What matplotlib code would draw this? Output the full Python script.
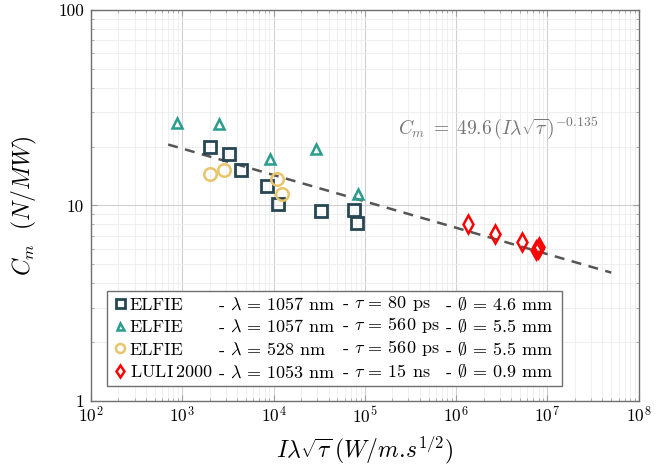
import matplotlib

matplotlib.use("Agg")
import matplotlib.pyplot as plt
from matplotlib.patches import Rectangle
import numpy as np

plt.rcParams["font.family"] = "serif"
plt.rcParams["font.serif"] = ["cmr10"]
plt.rcParams["mathtext.fontset"] = "cm"
plt.rcParams["axes.unicode_minus"] = False
plt.rcParams["axes.formatter.use_mathtext"] = True

# ELFIE 1057 nm, 80 ps
sq_x = [2010, 3245, 4350, 8450, 11070, 32900, 76300, 81000]
sq_y = [19.8, 18.3, 15.1, 12.6, 10.2, 9.4, 9.5, 8.1]
# ELFIE 1057 nm, 560 ps
tri_x = [867, 2500, 9120, 29100, 83100]
tri_y = [26.3, 26.1, 17.3, 19.4, 11.5]
# ELFIE 528 nm, 560 ps
circ_x = [1995, 2860, 10800, 12240]
circ_y = [14.4, 15.2, 13.7, 11.5]
# LULI 2000
dia_x = [1.36e6, 2.65e6, 5.2e6, 7.4e6, 7.8e6, 8.1e6]
dia_y = [8.07, 7.18, 6.49, 5.9, 6.0, 6.1]

fit_a = 49.6
fit_b = -0.135
fit_range = [7e2, 5e7]

names = ["ELFIE", "ELFIE", "ELFIE", r"LULI$\,$2000"]
lam_txt = [r"- $\lambda$ = 1057 nm", r"- $\lambda$ = 1057 nm",
           r"- $\lambda$ = 528 nm", r"- $\lambda$ = 1053 nm"]
tau_txt = [r"- $\tau$ = 80 ps", r"- $\tau$ = 560 ps",
           r"- $\tau$ = 560 ps", r"- $\tau$ = 15 ns"]
dia_txt = [r"- $\emptyset$ = 4.6 mm", r"- $\emptyset$ = 5.5 mm",
           r"- $\emptyset$ = 5.5 mm", r"- $\emptyset$ = 0.9 mm"]

c_sq = "#264653"
c_tri = "#2a9d8f"
c_circ = "#e9c46a"
c_dia = "#ff0000"
fs = 13

fig = plt.figure(figsize=(6.64, 4.70), dpi=100)
ax = fig.add_axes([0.137, 0.147, 0.825, 0.832])
ax.set_xscale("log")
ax.set_yscale("log")
ax.set_xlim(1e2, 1e8)
ax.set_ylim(1, 100)

ax.grid(True, which="major", color="#d0d0d0", lw=0.8)
ax.grid(True, which="minor", color="#ececec", lw=0.6)
ax.set_axisbelow(True)
for s in ax.spines.values():
    s.set_color("#707070")
    s.set_linewidth(1.0)
ax.tick_params(which="both", direction="in", top=True, right=True,
               color="#a0a0a0", labelsize=12.5)
ax.tick_params(which="major", length=4)
ax.tick_params(which="minor", length=2.5)
ax.tick_params(axis="y", pad=5)
ax.tick_params(axis="x", pad=3)
ax.set_yticks([1, 10, 100])
ax.set_yticklabels(["1", "10", "100"])

xf = np.logspace(np.log10(fit_range[0]), np.log10(fit_range[1]), 100)
ax.plot(xf, fit_a * xf ** fit_b, ls=(0, (4, 3)), color="#555555", lw=1.8)

h1, = ax.plot(sq_x, sq_y, ls="none", marker="s", ms=9, mfc="none",
              mec=c_sq, mew=2)
h2, = ax.plot(tri_x, tri_y, ls="none", marker="^", ms=7, mfc="none",
              mec=c_tri, mew=1.8)
h3, = ax.plot(circ_x, circ_y, ls="none", marker="o", ms=9, mfc="none",
              mec=c_circ, mew=1.8)
h4, = ax.plot(dia_x, dia_y, ls="none", marker="d", ms=9, mfc="none",
              mec=c_dia, mew=1.8)

ax.text(2.9e6, 24.9, r"$C_m\;=\;49.6\,(I\lambda\sqrt{\tau})^{-0.135}$",
        color="#777777", fontsize=14, ha="center", va="center")

ax.set_xlabel(r"$I\lambda\sqrt{\tau}\,(W/m.\!s^{1/2})$", fontsize=17,
              labelpad=6)
ax.set_ylabel(r"$C_m\ \ (N/MW)$", fontsize=17, labelpad=14)

leg = ax.legend([h1, h2, h3, h4], names, loc="lower left",
                bbox_to_anchor=(0.021, 0.02), frameon=False, fontsize=fs,
                handlelength=0.5, handletextpad=0.3, labelspacing=0.38,
                borderpad=0.2, markerscale=0.72)
leg.set_zorder(6)

# extra columns of the legend, aligned on the legend rows
fig.canvas.draw()
rend = fig.canvas.get_renderer()
inv = ax.transAxes.inverted()
gap = 6
row_boxes = [t.get_window_extent(rend) for t in leg.get_texts()]
col_x = max(b.x1 for b in row_boxes) + gap
right = col_x
for col in [lam_txt, tau_txt, dia_txt]:
    widths = []
    for txt, b in zip(col, row_boxes):
        t = ax.text(col_x, b.y0, txt, transform=None, fontsize=fs,
                    ha="left", va="bottom", zorder=7)
        widths.append(t.get_window_extent(rend).width)
    right = col_x + max(widths)
    col_x = right + gap

lb = leg.get_window_extent(rend)
x0, y0 = inv.transform((lb.x0 - 4, lb.y0 - 2))
x1, y1 = inv.transform((right + 9, lb.y1 + 2))
ax.add_patch(Rectangle((x0, y0), x1 - x0, y1 - y0, transform=ax.transAxes,
                       facecolor="white", edgecolor="#707070", lw=1.0,
                       zorder=5))

fig.savefig("out.png", dpi=100)
